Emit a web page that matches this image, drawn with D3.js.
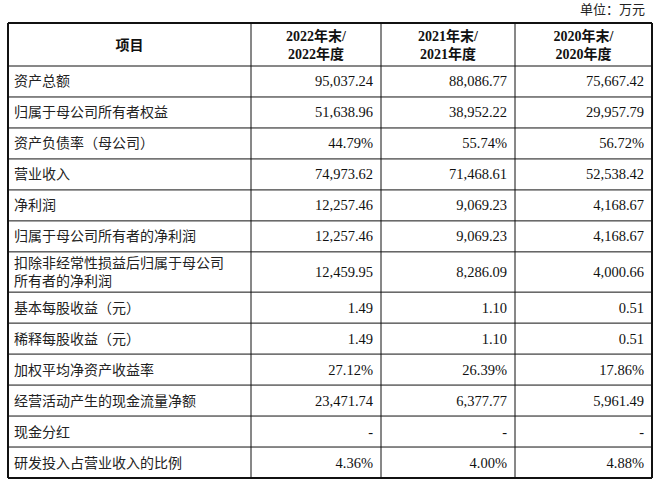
<!DOCTYPE html><html><head><meta charset="utf-8"><script src="https://cdn.jsdelivr.net/npm/d3@7"></script>
<style>body{margin:0;background:#fff}</style></head><body><svg id="c" width="660" height="482"></svg>
<script>
const unitLabel="单位：万元";
const headers=["项目","2022年末/\n2022年度","2021年末/\n2021年度","2020年末/\n2020年度"];
const items=["资产总额","归属于母公司所有者权益","资产负债率（母公司）","营业收入","净利润","归属于母公司所有者的净利润","扣除非经常性损益后归属于母公司\n所有者的净利润","基本每股收益（元）","稀释每股收益（元）","加权平均净资产收益率","经营活动产生的现金流量净额","现金分红","研发投入占营业收入的比例"];
const v2022=["95,037.24","51,638.96","44.79%","74,973.62","12,257.46","12,257.46","12,459.95","1.49","1.49","27.12%","23,471.74","-","4.36%"];
const v2021=["88,086.77","38,952.22","55.74%","71,468.61","9,069.23","9,069.23","8,286.09","1.10","1.10","26.39%","6,377.77","-","4.00%"];
const v2020=["75,667.42","29,957.79","56.72%","52,538.42","4,168.67","4,168.67","4,000.66","0.51","0.51","17.86%","5,961.49","-","4.88%"];
(function(){
const svg=d3.select("#c");
const colX=[8,251,381,515,652];
const rowUnits=items.map(s=>s.includes("\n")?1.3:1);
const y0t=23,headH=43,yb=478;
const unitH=(yb-y0t-headH)/d3.sum(rowUnits);
const ys=[y0t,y0t+headH];rowUnits.forEach(u=>ys.push(ys[ys.length-1]+u*unitH));
const cjk="'Noto Sans CJK SC','Noto Sans',sans-serif", ser="'Liberation Serif','Noto Sans CJK SC',serif";
svg.append("text").attr("x",645).attr("y",14).attr("text-anchor","end").attr("font-family",cjk).attr("font-size",13).attr("fill","#222").text(unitLabel);
ys.forEach((y,i)=>svg.append("line").attr("x1",colX[0]).attr("x2",colX[4]).attr("y1",y).attr("y2",y).attr("stroke","#111").attr("stroke-width",(i==0||i==ys.length-1)?2:1));
colX.forEach((x,i)=>svg.append("line").attr("x1",x).attr("x2",x).attr("y1",y0t).attr("y2",yb).attr("stroke","#111").attr("stroke-width",(i==0||i==4)?2:1));
headers.forEach((h,i)=>{const cx=(colX[i]+colX[i+1])/2;const lines=h.split("\n");
 const t=svg.append("text").attr("text-anchor","middle").attr("font-weight","bold").attr("font-size",14).attr("fill","#111").attr("font-family",i==0?cjk:ser);
 lines.forEach((l,j)=>t.append("tspan").attr("x",cx).attr("y",y0t+headH/2+5+(j-(lines.length-1)/2)*18).text(l));});
const cols=[v2022,v2021,v2020];
items.forEach((it,r)=>{const a=ys[r+1],b=ys[r+2],cy=(a+b)/2;const lines=it.split("\n");
 const t=svg.append("text").attr("font-size",14).attr("fill","#222").attr("font-family",cjk);
 lines.forEach((l,j)=>t.append("tspan").attr("x",14).attr("y",cy+5+(j-(lines.length-1)/2)*18).text(l));
 cols.forEach((c,k)=>svg.append("text").attr("x",colX[k+2]-8).attr("y",cy+5).attr("text-anchor","end").attr("font-size",14.5).attr("fill","#111").attr("font-family",ser).text(c[r]));});
})();
</script></body></html>
